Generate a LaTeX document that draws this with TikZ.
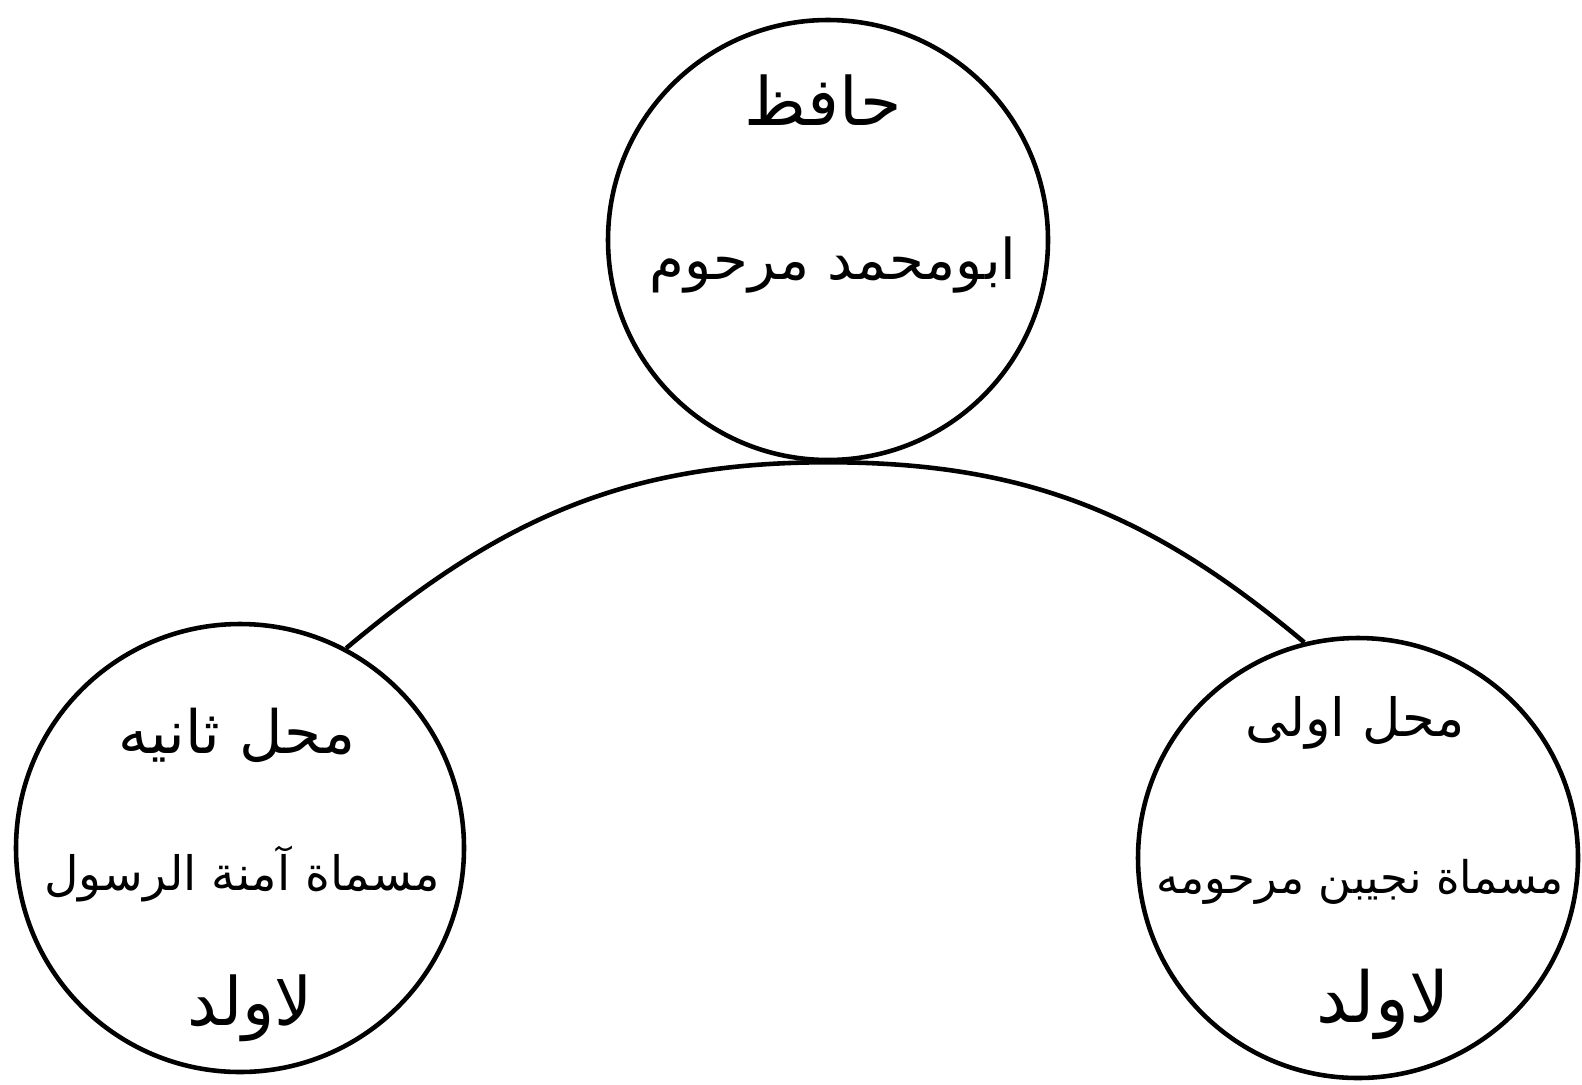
\documentclass[tikz,border=0pt]{standalone}
\usepackage{fontspec}
\usepackage{tikz}
\usetikzlibrary{positioning}
\TeXXeTstate=1
\newfontfamily\urdufont[Script=Arabic]{DejaVu Sans}
\newcommand{\urtext}[1]{\beginR #1\endR}

\begin{document}
\begin{tikzpicture}[
    person/.style={draw, circle, line width=1.3pt, minimum size=4.4cm, inner sep=0pt},
    urline/.style={inner sep=1pt, font=\urdufont\fontsize{#1}{#1}\selectfont}]
  \useasboundingbox (0,0) rectangle (15.82,10.84);
  % the three circles
  \node[person] (hafiz) at (8.28,8.44) {};
  \node[person, minimum size=4.48cm] (thania) at (2.40,2.36) {};
  \node[person] (ula) at (13.58,2.26) {};
  % top: the husband
  \node[urline=19] (hafiz-a) at (8.23,9.84) {\urtext{حافظ}};
  \node[urline=16] (hafiz-b) at (8.33,8.19) {\urtext{ابومحمد مرحوم}};
  % left: second wife
  \node[urline=17] (thania-a) at (2.37,3.49) {\urtext{محل ثانيه}};
  \node[urline=13.5] (thania-b) at (2.42,2.10) {\urtext{مسماة آمنة الرسول}};
  \node[urline=19] (thania-c) at (2.50,0.76) {\urtext{لاولد}};
  % right: first wife
  \node[urline=15] (ula-a) at (13.55,3.61) {\urtext{محل اولی}};
  \node[urline=12.8] (ula-b) at (13.60,2.02) {\urtext{مسماة نجیبن مرحومه}};
  \node[urline=20] (ula-c) at (13.83,0.80) {\urtext{لاولد}};
  % marriage arc
  \draw[line width=1.3pt] (thania.62) to[out=40,in=180] (hafiz.south)
    to[out=0,in=140] (ula.104);
\end{tikzpicture}
\end{document}
